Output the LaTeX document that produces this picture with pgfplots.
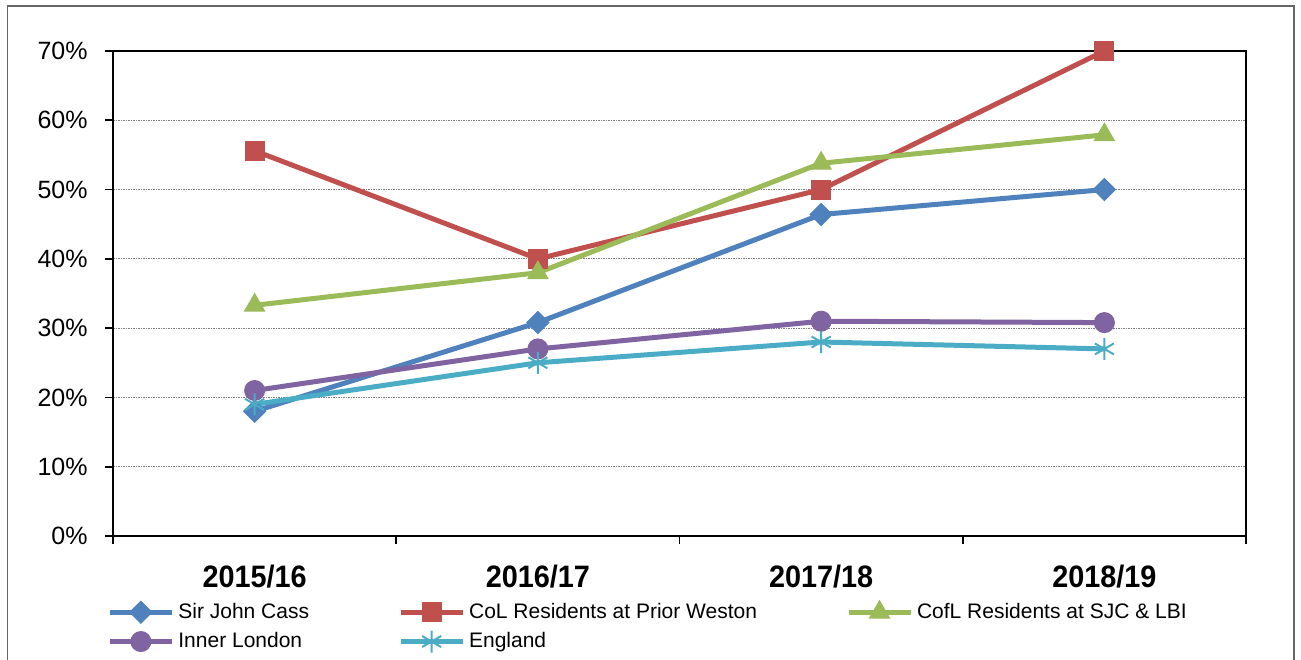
\documentclass[border=0pt]{standalone}
\usepackage{fontspec}
\setmainfont{Liberation Sans}
\usepackage{graphicx}
\usepackage{pgfplots}
\pgfplotsset{compat=1.18}
\definecolor{cBlue}{HTML}{4F81BD}
\definecolor{cRed}{HTML}{C0504D}
\definecolor{cGreen}{HTML}{9BBB59}
\definecolor{cPurple}{HTML}{8064A2}
\definecolor{cAqua}{HTML}{4BACC6}
\begin{document}
\begin{tikzpicture}
\path[use as bounding box] (0pt,0pt) rectangle (650.5pt,329.5pt);
\draw[gray!80!black, line width=0.6pt] (3.75pt,-5pt) rectangle (647pt,326.5pt);
\begin{axis}[
  at={(56.5pt,61.5pt)}, anchor=south west,
  scale only axis, width=566.5pt, height=242.5pt,
  xmin=-0.5, xmax=3.5, ymin=0, ymax=70,
  clip=false,
  axis line style={black, line width=1.2pt},
  tick align=outside,
  xtick pos=bottom, ytick pos=left,
  major tick length=4pt,
  tick style={black, line width=0.8pt},
  ytick={0,10,...,70},
  yticklabel={\pgfmathprintnumber{\tick}\%},
  /pgf/number format/assume math mode=true,
  yticklabel style={font=\fontsize{12.5}{14}\selectfont, inner sep=0pt, xshift=-8.5pt},
  xtick={-0.5,0.5,1.5,2.5,3.5},
  xticklabels={},
  extra x ticks={0,1,2,3},
  extra x tick labels={\scalebox{0.93}[1]{2015/16},\scalebox{0.93}[1]{2016/17},\scalebox{0.93}[1]{2017/18},\scalebox{0.93}[1]{2018/19}},
  extra x tick style={major tick length=0pt, grid=none},
  xticklabel style={font=\bfseries\fontsize{15.5}{17}\selectfont, inner sep=0pt, yshift=-14.5pt},
  ymajorgrids=true,
  major grid style={gray, dash pattern=on 0.75pt off 0.5pt, line width=0.5pt},
  legend columns=3,
  legend style={draw=none, fill=none, inner sep=0pt, row sep=1.5pt,
    font=\fontsize{10.5}{12}\selectfont,
    at={(axis description cs:0,-0.1295)}, anchor=north west, xshift=-3pt,
    /tikz/every even column/.append style={column sep=42.5pt}},
  legend cell align=left,
  legend image code/.code={\draw[mark repeat=2, mark phase=2] plot coordinates {(0pt,0pt) (15.5pt,0pt) (31pt,0pt)};},
]
\addplot[color=cBlue, line width=2.5pt, mark=square*, mark size=3.9pt, mark options={rotate=45, solid, line width=0.5pt}]
  coordinates {(0,18) (1,30.8) (2,46.4) (3,50)};
\addlegendentry{Sir John Cass}
\addplot[color=cRed, line width=2.5pt, mark=square*, mark size=4.75pt, mark options={solid, line width=0.5pt}]
  coordinates {(0,55.6) (1,40) (2,50) (3,70)};
\addlegendentry{CoL Residents at Prior Weston}
\addplot[color=cGreen, line width=2.5pt, mark=triangle*, mark size=5.8pt, mark options={solid, line width=0.5pt}]
  coordinates {(0,33.3) (1,38) (2,53.8) (3,57.9)};
\addlegendentry{CofL Residents at SJC \& LBI}
\addplot[color=cPurple, line width=2.5pt, mark=*, mark size=5pt, mark options={solid, line width=0.5pt}]
  coordinates {(0,21) (1,27) (2,31) (3,30.8)};
\addlegendentry{Inner London}
\addplot[color=cAqua, line width=2.5pt, mark=asterisk, mark size=5.5pt, mark options={solid, line width=1pt}]
  coordinates {(0,19) (1,25) (2,28) (3,27)};
\addlegendentry{England}
\end{axis}
\end{tikzpicture}
\end{document}
